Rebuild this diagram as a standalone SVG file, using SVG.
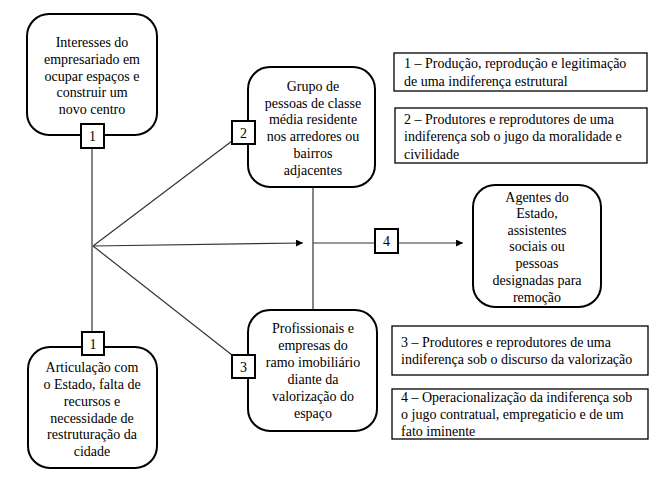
<svg xmlns="http://www.w3.org/2000/svg" width="667" height="488" viewBox="0 0 667 488" font-family="'Liberation Serif', 'Times New Roman', 'DejaVu Serif', serif" font-size="14">
<defs>
<style>
text{font-family:'Liberation Serif','Times New Roman','DejaVu Serif',serif;font-size:14px;fill:#000}
.node{fill:#fff;stroke:#000;stroke-width:2}
.lbl{fill:#fff;stroke:#000;stroke-width:2}
.leg{fill:#fff;stroke:#000;stroke-width:1.3}
.c{text-anchor:middle}
.conn{stroke:#333;stroke-width:1.2;fill:none}
</style>
<marker id="arr" viewBox="0 0 10 10" refX="10" refY="5" markerWidth="9" markerHeight="7" markerUnits="userSpaceOnUse" orient="auto">
<path d="M0,0 L10,5 L0,10 z" fill="#000"/>
</marker>
</defs>
<rect width="667" height="488" fill="#fff"/>
<g id="connectors">
<line class="conn" x1="92" y1="148" x2="92" y2="332"/>
<line class="conn" x1="93" y1="246" x2="232" y2="141"/>
<line class="conn" x1="93" y1="246" x2="232" y2="355"/>
<line class="conn" x1="93" y1="246" x2="303" y2="243" marker-end="url(#arr)"/>
<line class="conn" x1="313" y1="187" x2="313" y2="310"/>
<line class="conn" x1="313" y1="243" x2="375" y2="243"/>
<line class="conn" x1="398" y1="243" x2="463" y2="243" marker-end="url(#arr)"/>
</g>
<g id="node-interesses">
<rect class="node" x="27" y="14" width="130" height="121" rx="22"/>
<text class="c" x="92" y="47">Interesses do</text>
<text class="c" x="92" y="64">empresariado em</text>
<text class="c" x="92" y="81">ocupar espaços e</text>
<text class="c" x="92" y="97">construir um</text>
<text class="c" x="92" y="114">novo centro</text>
</g>
<g id="label-1-top">
<rect class="lbl" x="81" y="124" width="23" height="24"/>
<text class="c" x="92.5" y="141">1</text>
</g>
<g id="node-grupo">
<rect class="node" x="248" y="67" width="127" height="120" rx="22"/>
<text class="c" x="313" y="91">Grupo de</text>
<text class="c" x="313" y="108">pessoas de classe</text>
<text class="c" x="313" y="124">média residente</text>
<text class="c" x="313" y="141">nos arredores ou</text>
<text class="c" x="313" y="158">bairros</text>
<text class="c" x="313" y="175">adjacentes</text>
</g>
<g id="label-2">
<rect class="lbl" x="232" y="121" width="23" height="23"/>
<text class="c" x="243.5" y="138">2</text>
</g>
<g id="node-profissionais">
<rect class="node" x="248" y="310" width="129" height="121" rx="22"/>
<text class="c" x="313" y="333">Profissionais e</text>
<text class="c" x="313" y="350">empresas do</text>
<text class="c" x="313" y="367">ramo imobiliário</text>
<text class="c" x="313" y="384">diante da</text>
<text class="c" x="313" y="401">valorização do</text>
<text class="c" x="313" y="418">espaço</text>
</g>
<g id="label-3">
<rect class="lbl" x="232" y="355" width="23" height="23"/>
<text class="c" x="243.5" y="372">3</text>
</g>
<g id="node-articulacao">
<rect class="node" x="28" y="347" width="129" height="121" rx="22"/>
<text class="c" x="92" y="372">Articulação com</text>
<text class="c" x="92" y="389">o Estado, falta de</text>
<text class="c" x="92" y="406">recursos e</text>
<text class="c" x="92" y="423">necessidade de</text>
<text class="c" x="92" y="439">restruturação da</text>
<text class="c" x="92" y="456">cidade</text>
</g>
<g id="label-1-bottom">
<rect class="lbl" x="82" y="332" width="22" height="23"/>
<text class="c" x="93" y="349">1</text>
</g>
<g id="label-4">
<rect class="lbl" x="375" y="229" width="23" height="24"/>
<text class="c" x="386.5" y="246">4</text>
</g>
<g id="node-agentes">
<rect class="node" x="473" y="185" width="128" height="122" rx="22"/>
<text class="c" x="537" y="202">Agentes do</text>
<text class="c" x="537" y="218">Estado,</text>
<text class="c" x="537" y="235">assistentes</text>
<text class="c" x="537" y="251">sociais ou</text>
<text class="c" x="537" y="268">pessoas</text>
<text class="c" x="537" y="285">designadas para</text>
<text class="c" x="537" y="302">remoção</text>
</g>
<g id="legend-1">
<rect class="leg" x="394" y="53" width="253" height="38"/>
<text x="404" y="68">1 – Produção, reprodução e legitimação</text>
<text x="404" y="86">de uma indiferença  estrutural</text>
</g>
<g id="legend-2">
<rect class="leg" x="395" y="108" width="252" height="55"/>
<text x="404" y="124">2 – Produtores e reprodutores de uma</text>
<text x="404" y="141">indiferença sob o jugo  da moralidade  e</text>
<text x="404" y="159">civilidade</text>
</g>
<g id="legend-3">
<rect class="leg" x="392" y="326" width="256" height="49"/>
<text x="401" y="347">3 – Produtores e reprodutores de uma</text>
<text x="401" y="364">indiferença sob o discurso da valorização</text>
</g>
<g id="legend-4">
<rect class="leg" x="392" y="389" width="256" height="50"/>
<text x="401" y="402">4 – Operacionalização da indiferença sob</text>
<text x="401" y="419">o jugo  contratual, empregaticio e de um</text>
<text x="401" y="436">fato iminente</text>
</g>
</svg>
